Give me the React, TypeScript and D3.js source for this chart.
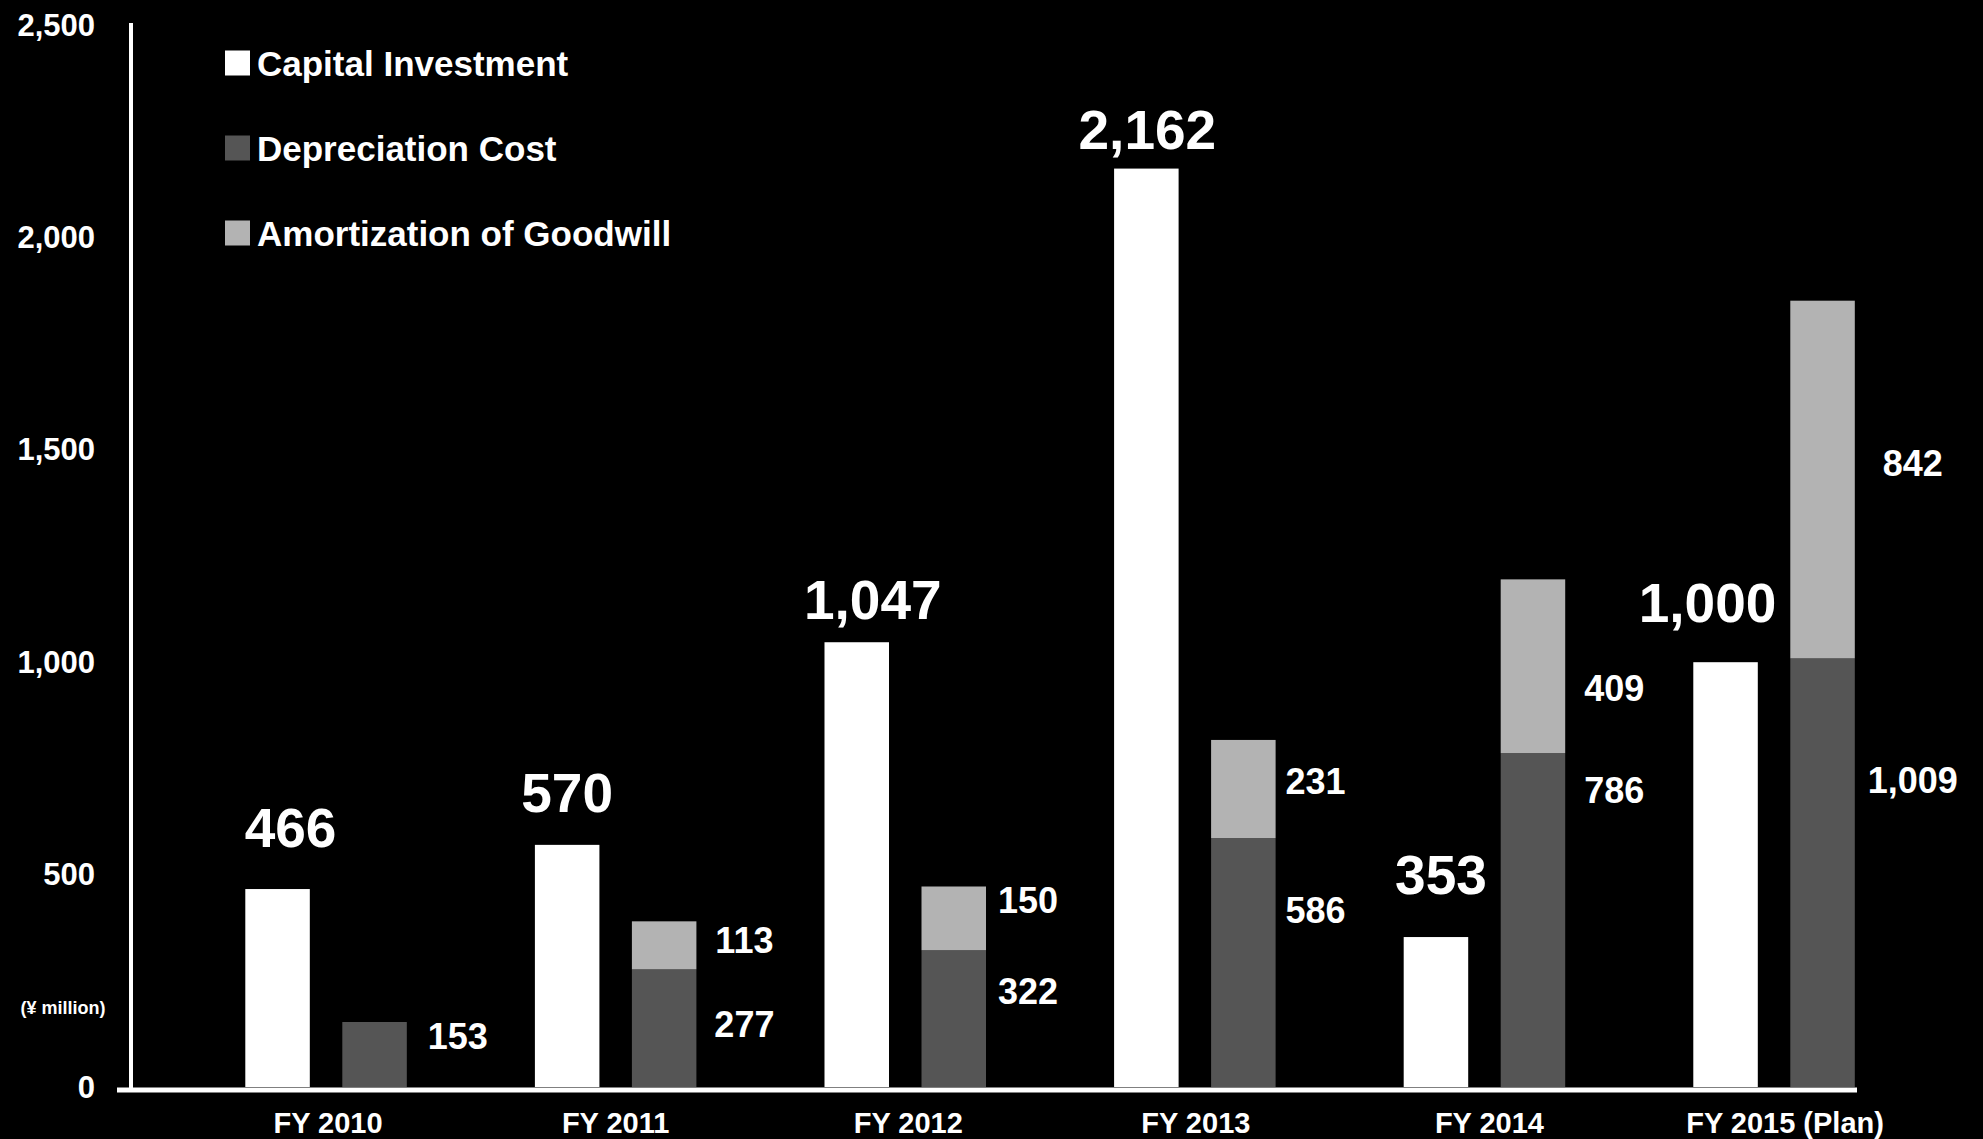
import React from "react";
import * as d3 from "d3";

const years = ["FY 2010", "FY 2011", "FY 2012", "FY 2013", "FY 2014", "FY 2015 (Plan)"];
const capitalInvestment = [466, 570, 1047, 2162, 353, 1000];
const depreciationCost = [153, 277, 322, 586, 786, 1009];
const amortizationGoodwill = [0, 113, 150, 231, 409, 842];
const yTicks = [0, 500, 1000, 1500, 2000, 2500];
const legendItems = ["Capital Investment", "Depreciation Cost", "Amortization of Goodwill"];

// layout nudges (pixels) for hand-placed labels in the original
const capNudge: [number, number][] = [[13, -42], [0, -33], [16, -23], [1, -20], [5, -43], [-18, -40]];
const depNudgeY = [-18, -4, -27, -52, -130, -92];
const amoNudgeY = [0, -5, -18, -8, 22, -16];
const sideLabelOffset = [51, 48, 42, 40, 49, 58];
const xLabelNudge = [2, 0, 3, 1, 5, 11];

const W = 1983;
const H = 1139;
const WHITE = "#ffffff";
const DARK = "#555555";
const LIGHT = "#b3b3b3";
const FONT = "'Liberation Sans', Arial, Helvetica, sans-serif";

export default function App() {
  const y = d3.scaleLinear().domain([0, 2500]).range([1087, 25]);
  const x = d3.scaleBand<string>().domain(years).range([245.3, 1854.8]).paddingInner(0.4423).paddingOuter(0);
  const inner = d3.scaleBand<string>().domain(["cap", "dep"]).range([0, x.bandwidth()]).paddingInner(0.335);
  const fmt = d3.format(",");
  const bw = inner.bandwidth();

  return (
    <div style={{ position: "absolute", left: 0, top: 0 }}>
      <svg width={W} height={H} style={{ display: "block", background: "#000" }} fontFamily={FONT}>
        <rect x={0} y={0} width={W} height={H} fill="#000" />
        {/* y tick labels */}
        {yTicks.map((t) => (
          <text key={t} x={95} y={y(t)} textAnchor="end" dominantBaseline="central" fill={WHITE} fontSize={31} fontWeight="bold">
            {fmt(t)}
          </text>
        ))}
        <text x={63} y={1008} textAnchor="middle" dominantBaseline="central" fill={WHITE} fontSize={18} fontWeight="bold">
          (¥ million)
        </text>

        {/* bars */}
        {years.map((yr, i) => {
          const x0 = x(yr)!;
          const xc = x0 + inner("cap")!;
          const xd = x0 + inner("dep")!;
          const dTop = y(depreciationCost[i]);
          const aTop = y(depreciationCost[i] + amortizationGoodwill[i]);
          return (
            <g key={yr}>
              <rect x={xc} y={y(capitalInvestment[i])} width={bw} height={y(0) - y(capitalInvestment[i])} fill={WHITE} />
              <rect x={xd} y={dTop} width={bw} height={y(0) - dTop} fill={DARK} />
              {amortizationGoodwill[i] > 0 && (
                <rect x={xd} y={aTop} width={bw} height={dTop - aTop} fill={LIGHT} />
              )}
            </g>
          );
        })}

        {/* axes */}
        <line x1={131} x2={131} y1={23} y2={1090} stroke={WHITE} strokeWidth={4} />
        <line x1={117} x2={1857} y1={1090} y2={1090} stroke={WHITE} strokeWidth={5} />

        {/* labels */}
        {years.map((yr, i) => {
          const x0 = x(yr)!;
          const xc = x0 + inner("cap")! + bw / 2;
          const xd = x0 + inner("dep")!;
          const dTop = y(depreciationCost[i]);
          const aTop = y(depreciationCost[i] + amortizationGoodwill[i]);
          const lx = xd + bw + sideLabelOffset[i];
          return (
            <g key={"l" + yr}>
              <text x={xc + capNudge[i][0]} y={y(capitalInvestment[i]) + capNudge[i][1]} textAnchor="middle" fill={WHITE} fontSize={55} fontWeight="bold">
                {fmt(capitalInvestment[i])}
              </text>
              <text x={lx} y={(dTop + y(0)) / 2 + depNudgeY[i]} textAnchor="middle" dominantBaseline="central" fill={WHITE} fontSize={36} fontWeight="bold">
                {fmt(depreciationCost[i])}
              </text>
              {amortizationGoodwill[i] > 0 && (
                <text x={lx} y={(aTop + dTop) / 2 + amoNudgeY[i]} textAnchor="middle" dominantBaseline="central" fill={WHITE} fontSize={36} fontWeight="bold">
                  {fmt(amortizationGoodwill[i])}
                </text>
              )}
              <text x={x0 + x.bandwidth() / 2 + xLabelNudge[i]} y={1133} textAnchor="middle" fill={WHITE} fontSize={29} fontWeight="bold">
                {yr}
              </text>
            </g>
          );
        })}

        {/* legend */}
        {legendItems.map((name, i) => {
          const cy = 63 + i * 85;
          return (
            <g key={name}>
              <rect x={225} y={cy - 12.5} width={25} height={25} fill={[WHITE, DARK, LIGHT][i]} />
              <text x={257} y={cy} dominantBaseline="central" fill={WHITE} fontSize={35} fontWeight="bold">
                {name}
              </text>
            </g>
          );
        })}
      </svg>
    </div>
  );
}
